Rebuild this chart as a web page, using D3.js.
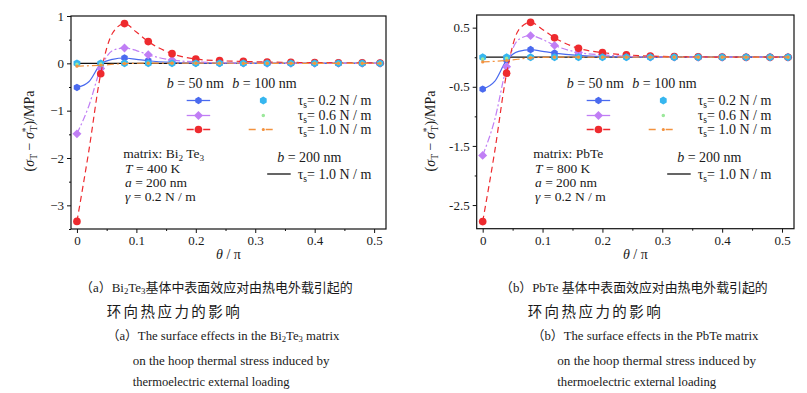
<!DOCTYPE html>
<html>
<head>
<meta charset="utf-8">
<script src="https://cdn.jsdelivr.net/npm/d3@7"></script>
<style>
  body { margin: 0; background: #fff; }
</style>
</head>
<body>
<script>
// theta / pi sampling: fine grid for the b = 50 nm curves, markers every 0.04
const thetaFine = [0, 0.02, 0.04, 0.06, 0.08, 0.10, 0.12, 0.16, 0.20, 0.24, 0.28, 0.32, 0.36, 0.40, 0.44, 0.48, 0.51];
const thetaMarks = [0, 0.04, 0.08, 0.12, 0.16, 0.20, 0.24, 0.28, 0.32, 0.36, 0.40, 0.44, 0.48, 0.51];

// (a) Bi2Te3 matrix, T = 400 K
const bi50T02 = [-0.51, -0.39, -0.02, 0.085, 0.113, 0.085, 0.055, 0.02, 0.006, 0.002, 0.001, 0, 0, 0, 0, 0, 0];
const bi50T06 = [-1.49, -0.9, -0.11, 0.27, 0.325, 0.27, 0.18, 0.07, 0.03, 0.012, 0.005, 0.002, 0.001, 0, 0, 0, 0];
const bi50T10 = [-3.34, -1.85, -0.22, 0.64, 0.84, 0.66, 0.46, 0.205, 0.09, 0.056, 0.04, 0.028, 0.02, 0.015, 0.012, 0.01, 0.008];
const bi100T02 = [0, 0, 0, 0, 0, 0, 0, 0, 0, 0, 0, 0, 0, 0];
const bi100T06 = [-0.02, -0.015, -0.003, 0, 0, 0, 0, 0, 0, 0, 0, 0, 0, 0];
const bi100T10 = [-0.06, -0.04, -0.005, 0.004, 0.004, 0.003, 0.002, 0.001, 0, 0, 0, 0, 0, 0];
const bi200T10 = [0, 0, 0, 0, 0, 0, 0, 0, 0, 0, 0, 0, 0, 0];

// (b) PbTe matrix, T = 800 K
const pb50T02 = [-0.54, -0.41, -0.05, 0.10, 0.13, 0.10, 0.07, 0.03, 0.01, 0.004, 0.001, 0, 0, 0, 0, 0, 0];
const pb50T06 = [-1.66, -1.06, -0.16, 0.30, 0.365, 0.30, 0.20, 0.08, 0.04, 0.015, 0.005, 0.002, 0, 0, 0, 0, 0];
const pb50T10 = [-2.78, -1.6, -0.27, 0.46, 0.59, 0.47, 0.33, 0.15, 0.077, 0.04, 0.02, 0.01, 0.005, 0.002, 0, 0, 0];
const pb100T02 = [0, 0, 0, 0, 0, 0, 0, 0, 0, 0, 0, 0, 0, 0];
const pb100T06 = [-0.03, -0.02, -0.004, 0, 0, 0, 0, 0, 0, 0, 0, 0, 0, 0];
const pb100T10 = [-0.08, -0.055, -0.012, 0.002, 0.002, 0.001, 0, 0, 0, 0, 0, 0, 0, 0];
const pb200T10 = [0, 0, 0, 0, 0, 0, 0, 0, 0, 0, 0, 0, 0, 0];

const xTicks = [0, 0.1, 0.2, 0.3, 0.4, 0.5];
const xMinor = [0.05, 0.15, 0.25, 0.35, 0.45];
const biYTicks = [-3, -2, -1, 0, 1];
const biYMinor = [-3.5, -2.5, -1.5, -0.5, 0.5];
const pbYTicks = [-2.5, -1.5, -0.5, 0.5];
const pbYMinor = [-2, -1, 0];

const tauLabels = ["0.2", "0.6", "1.0"];

const W = 807, H = 393;
const serif = "'Liberation Serif', 'Times New Roman', serif";
const capFont = "'Liberation Serif', 'Noto Sans CJK SC', serif";
const svg = d3.select("body").append("svg")
    .attr("width", W)
    .attr("height", H)
    .style("font-family", serif);

const hexagon = {
  draw(ctx, size) {
    const r = Math.sqrt(size / (1.5 * Math.sqrt(3)));
    for (let i = 0; i < 6; i++) {
      const a = Math.PI / 3 * i + Math.PI / 6;
      const px = r * Math.cos(a), py = r * Math.sin(a);
      if (i) ctx.lineTo(px, py); else ctx.moveTo(px, py);
    }
    ctx.closePath();
  }
};
// square diamond (d3's own diamond is too tall)
const rhomb = {
  draw(ctx, size) {
    const r = Math.sqrt(size / 2);
    ctx.moveTo(0, -r); ctx.lineTo(r, 0); ctx.lineTo(0, r); ctx.lineTo(-r, 0);
    ctx.closePath();
  }
};

const styles = {
  b50t02: {color: "#4a6aef", dash: null, legendDash: null, symbol: hexagon, size: 36, line: true},
  b50t06: {color: "#c07ef5", dash: "7,2.5,2,2.5", legendDash: null, symbol: rhomb, size: 40, line: true},
  b50t10: {color: "#ee2a2e", dash: "6,4", legendDash: "7,9.5,7", symbol: d3.symbolCircle, size: 46, line: true},
  b100t02: {color: "#36b6ef", dash: null, symbol: hexagon, size: 40, line: false},
  b100t06: {color: "#9be89b", dash: null, symbol: d3.symbolCircle, size: 10, line: false},
  b100t10: {color: "#f3923f", dash: "7,3,2,3", legendDash: "7,10,7", symbol: d3.symbolCircle, size: 8, line: true},
  b200t10: {color: "#111", dash: null, symbol: null, size: 0, line: true}
};

// text with sub/superscripts and italics
function rich(g, x, y, parts, fs, extra) {
  const t = g.append("text").attr("x", x).attr("y", y).attr("font-size", fs).attr("fill", "#1a1a1a");
  if (extra) extra(t);
  let shift = 0;
  parts.forEach(p => {
    const [s, k, dx] = p;
    const target = k === "sub" ? 0.2 : k === "sup" ? -0.38 : 0;
    const ts = t.append("tspan").text(s);
    const dy = (target - shift) * fs;
    if (dy) ts.attr("dy", dy);
    if (dx) ts.attr("dx", dx);
    if (k === "sub" || k === "sup") ts.attr("font-size", fs * 0.68);
    if (k === "i") ts.attr("font-style", "italic");
    shift = target;
  });
  return t;
}

// caption line: font size scaled so the line spans the measured width
function caption(g, c) {
  const style = t => t.style("font-family", capFont);
  const probe = rich(g, c.x, c.y, c.parts, c.fs, style);
  const w = probe.node().getComputedTextLength();
  probe.remove();
  if (c.spread) {
    // short line set with wider letter spacing
    const t = rich(g, c.x, c.y, c.parts, c.fs, style);
    t.attr("letter-spacing", (c.len - w) / (t.text().length - 1));
    return t;
  }
  return rich(g, c.x, c.y, c.parts, c.fs * c.len / w, style);
}

function drawPanel(p) {
  const x = d3.scaleLinear().domain([-0.01, 0.52]).range([p.x0, p.x1]);
  const y = d3.scaleLinear().domain(p.yDomain).range([p.y1, p.y0]);
  const g = svg.append("g");

  // axes
  g.append("g").attr("transform", `translate(0,${p.y1})`)
      .call(d3.axisBottom(x).tickValues(xTicks).tickSize(4).tickPadding(3)
        .tickFormat(d => d === 0 ? "0" : d3.format(".1f")(d)));
  g.append("g").attr("transform", `translate(0,${p.y1})`)
      .call(d3.axisBottom(x).tickValues(xMinor).tickSize(2).tickFormat(""));
  g.append("g").attr("transform", `translate(${p.x0},0)`)
      .call(d3.axisLeft(y).tickValues(p.yTicks).tickSize(4).tickPadding(3).tickFormat(p.yFormat));
  g.append("g").attr("transform", `translate(${p.x0},0)`)
      .call(d3.axisLeft(y).tickValues(p.yMinor).tickSize(2).tickFormat(""));
  g.selectAll(".domain").remove();
  g.selectAll(".tick line").attr("stroke", "#111").attr("stroke-width", 1);
  g.selectAll(".tick text")
      .style("font-family", serif)
      .style("font-size", "13px")
      .attr("fill", "#1a1a1a");

  const line = d3.line().x(d => x(d[0])).y(d => y(d[1])).curve(d3.curveMonotoneX);

  p.series.forEach(s => {
    const st = styles[s.key];
    const pts = s.theta.map((t, i) => [t, s.values[i]]);
    if (st.line) {
      g.append("path").datum(pts)
          .attr("d", line)
          .attr("fill", "none")
          .attr("stroke", st.color)
          .attr("stroke-width", s.key === "b200t10" ? 1.3 : 1.2)
          .attr("stroke-dasharray", st.dash);
    }
    if (st.symbol) {
      const marks = pts.filter(d => thetaMarks.includes(d[0]));
      g.append("g").selectAll("path").data(marks).join("path")
          .attr("transform", d => `translate(${x(d[0])},${y(d[1])})`)
          .attr("d", d3.symbol(st.symbol, st.size))
          .attr("fill", st.color);
    }
  });

  // frame
  g.append("rect")
      .attr("x", p.x0).attr("y", p.y0)
      .attr("width", p.x1 - p.x0).attr("height", p.y1 - p.y0)
      .attr("fill", "none").attr("stroke", "#111").attr("stroke-width", 1.2);

  // axis titles
  rich(g, (p.x0 + p.x1) / 2, 259, [["θ", "i"], [" / π", ""]], 14,
      t => t.attr("text-anchor", "middle"));
  rich(g, 0, 0, [["(", ""], ["σ", "i"], ["T", "sub"], [" − ", ""], ["σ", "i"], ["*", "sup"], ["T", "sub", -4], [")/MPa", ""]], 14,
      t => t.attr("text-anchor", "middle").attr("transform", `translate(${p.yTitleX},131) rotate(-90)`));

  // legend
  const lx = p.legendX;
  rich(g, lx, 88, [["b", "i"], [" = 50 nm", ""]], 14);
  rich(g, lx + 65.6, 88, [["b", "i"], [" = 100 nm", ""]], 14);
  const rowsY = [100.5, 115.5, 129.5];
  const left = ["b50t02", "b50t06", "b50t10"];
  const right = ["b100t02", "b100t06", "b100t10"];
  rowsY.forEach((ry, i) => {
    const a = styles[left[i]], b = styles[right[i]];
    g.append("line").attr("x1", lx + 20).attr("x2", lx + 43.5).attr("y1", ry).attr("y2", ry)
        .attr("stroke", a.color).attr("stroke-width", 1.3).attr("stroke-dasharray", a.legendDash);
    g.append("path").attr("transform", `translate(${lx + 31.75},${ry})`)
        .attr("d", d3.symbol(a.symbol, a.size)).attr("fill", a.color);
    if (b.line) {
      g.append("line").attr("x1", lx + 82).attr("x2", lx + 106).attr("y1", ry).attr("y2", ry)
          .attr("stroke", b.color).attr("stroke-width", 1.3).attr("stroke-dasharray", b.legendDash);
    }
    g.append("path").attr("transform", `translate(${lx + 96.6},${ry})`)
        .attr("d", d3.symbol(b.symbol, b.size)).attr("fill", b.color);
    rich(g, lx + 131, ry + 4.8, [["τ", ""], ["s", "sub"], ["= " + tauLabels[i] + " N / m", ""]], 14);
  });
  rich(g, lx + 110.5, 161.5, [["b", "i"], [" = 200 nm", ""]], 14);
  g.append("line").attr("x1", lx + 100.5).attr("x2", lx + 124).attr("y1", 174).attr("y2", 174)
      .attr("stroke", styles.b200t10.color).attr("stroke-width", 1.3);
  rich(g, lx + 131, 178.8, [["τ", ""], ["s", "sub"], ["= 1.0 N / m", ""]], 14);

  // material annotation
  const mx = p.annoX;
  rich(g, mx, 158, p.matrix, 13.5);
  rich(g, mx + 1.7, 173, [["T", "i"], [" = " + p.temp, ""]], 13.5);
  rich(g, mx + 1.7, 187, [["a", "i"], [" = 200 nm", ""]], 13.5);
  rich(g, mx + 1.7, 200.5, [["γ", "i"], [" = 0.2 N / m", ""]], 13.5);

  p.captions.forEach(c => caption(g, c));
}

drawPanel({
  x0: 71, x1: 386, y0: 16, y1: 229,
  yDomain: [-3.5, 1],
  yTicks: biYTicks, yMinor: biYMinor,
  yFormat: d => d < 0 ? "−" + Math.abs(d) : String(d),
  yTitleX: 34,
  legendX: 166.7, annoX: 123.3,
  matrix: [["matrix: Bi", ""], ["2", "sub"], [" Te", ""], ["3", "sub"]],
  temp: "400 K",
  series: [
    {key: "b200t10", theta: thetaMarks, values: bi200T10},
    {key: "b50t02", theta: thetaFine, values: bi50T02},
    {key: "b50t06", theta: thetaFine, values: bi50T06},
    {key: "b50t10", theta: thetaFine, values: bi50T10},
    {key: "b100t02", theta: thetaMarks, values: bi100T02},
    {key: "b100t06", theta: thetaMarks, values: bi100T06},
    {key: "b100t10", theta: thetaMarks, values: bi100T10}
  ],
  captions: [
    {x: 80, y: 291.5, fs: 13, len: 273, parts: [["（a）Bi", ""], ["2", "sub"], ["Te", ""], ["3", "sub"], ["基体中表面效应对由热电外载引起的", ""]]},
    {x: 106.7, y: 316.5, fs: 14.5, len: 133, spread: true, parts: [["环向热应力的影响", ""]]},
    {x: 106.7, y: 339.5, fs: 13, len: 233, parts: [["（a）The surface effects in the Bi", ""], ["2", "sub"], ["Te", ""], ["3", "sub"], [" matrix", ""]]},
    {x: 132.7, y: 364.5, fs: 13, len: 197, parts: [["on the hoop thermal stress induced by", ""]]},
    {x: 132.7, y: 386, fs: 13, len: 157, parts: [["thermoelectric external loading", ""]]}
  ]
});

drawPanel({
  x0: 476.7, x1: 794, y0: 15, y1: 228.7,
  yDomain: [-2.9, 0.714],
  yTicks: pbYTicks, yMinor: pbYMinor,
  yFormat: d => d < 0 ? "-" + Math.abs(d) : String(d),
  yTitleX: 435,
  legendX: 566.7, annoX: 533.3,
  matrix: [["matrix: PbTe", ""]],
  temp: "800 K",
  series: [
    {key: "b200t10", theta: thetaMarks, values: pb200T10},
    {key: "b50t02", theta: thetaFine, values: pb50T02},
    {key: "b50t06", theta: thetaFine, values: pb50T06},
    {key: "b50t10", theta: thetaFine, values: pb50T10},
    {key: "b100t02", theta: thetaMarks, values: pb100T02},
    {key: "b100t06", theta: thetaMarks, values: pb100T06},
    {key: "b100t10", theta: thetaMarks, values: pb100T10}
  ],
  captions: [
    {x: 500, y: 291.5, fs: 13, len: 268, parts: [["（b）PbTe 基体中表面效应对由热电外载引起的", ""]]},
    {x: 527.7, y: 316.5, fs: 14.5, len: 133, spread: true, parts: [["环向热应力的影响", ""]]},
    {x: 531.7, y: 339.5, fs: 13, len: 227, parts: [["（b）The surface effects in the PbTe matrix", ""]]},
    {x: 557.3, y: 364.5, fs: 13, len: 199, parts: [["on the hoop thermal stress induced by", ""]]},
    {x: 557.3, y: 386, fs: 13, len: 159, parts: [["thermoelectric external loading", ""]]}
  ]
});
</script>
</body>
</html>
